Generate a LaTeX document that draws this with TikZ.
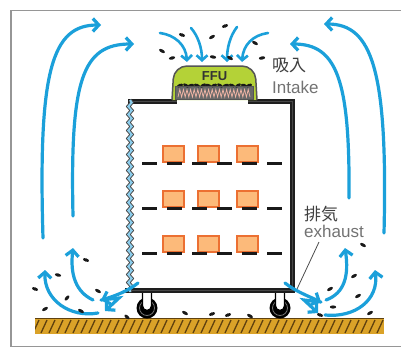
\documentclass[tikz,border=0pt]{standalone}
\usepackage{fontspec}
\setmainfont{Liberation Sans}
\newfontfamily\jpfont{Noto Sans CJK JP}
\usetikzlibrary{arrows.meta,decorations.pathmorphing}

\definecolor{airblue}{RGB}{27,160,218}
\definecolor{ffugreen}{RGB}{180,210,55}
\definecolor{ffuedge}{RGB}{85,85,85}
\definecolor{boxfill}{RGB}{252,186,122}
\definecolor{boxedge}{RGB}{236,112,50}
\definecolor{floorc}{RGB}{218,162,40}
\definecolor{hatchc}{RGB}{95,65,15}
\definecolor{rackc}{RGB}{30,30,30}
\definecolor{curtainc}{RGB}{140,205,236}
\definecolor{framec}{RGB}{150,150,150}
\definecolor{filterc}{RGB}{105,105,105}
\definecolor{pleatc}{RGB}{242,182,166}

\tikzset{
  air/.style={draw=airblue, line width=3.2pt, line cap=round,
    -{Straight Barb[length=6pt,width=13pt]}},
  airsmall/.style={draw=airblue, line width=2.6pt, line cap=round,
    -{Straight Barb[length=5pt,width=11pt]}},
  rackbar/.style={draw=rackc, line width=5pt},
  rackcore/.style={draw=black!72, line width=1pt},
  crate/.style={draw=boxedge, fill=boxfill, line width=1.3pt},
  shelf/.style={draw=black!90, line width=3pt, dash pattern=on 15pt off 10pt},
  jplabel/.style={font=\jpfont\fontsize{17}{17}\selectfont, text=black!75, inner sep=0pt, anchor=base west},
  enlabel/.style={font=\fontsize{17}{17}\selectfont, text=black!55, inner sep=0pt, anchor=base west},
}
% a single dust speck: x, y, angle
\newcommand{\speck}[3]{\fill[black!90, rotate around={#3:(#1,#2)}] (#1,#2) ellipse (3.2 and 1.6);}

\begin{document}
\begin{tikzpicture}[x=1pt,y=-1pt]
\useasboundingbox (0,0) rectangle (401,348);
\fill[white] (0,0) rectangle (401,348);

% outer frame
\draw[framec, line width=1.5pt] (402,10.5) -- (11,10.5) -- (11,346.5) -- (402,346.5);

% floor with hatching
\fill[floorc] (35,318) rectangle (384,334);
\begin{scope}
  \clip (35,318) rectangle (384,334);
  \foreach \x in {33,41,...,385} \draw[hatchc, line width=1.3pt] (\x,333) -- (\x+6,320);
\end{scope}
\draw[hatchc, line width=1.2pt] (35,318.5) -- (384,318.5);

% casters
\foreach \cx in {147,280} {
  \fill[black] (\cx,308) circle (10.5);
  \draw[black!55, line width=0.8pt] (\cx,308) circle (7.5);
  \draw[black, fill=white, line width=1.4pt] (\cx-4.5,291) -- (\cx-4.5,306) arc (180:0:4.5) -- (\cx+4.5,291);
}

% rack frame
\draw[rackbar] (128,101) -- (177,101);
\draw[rackbar, line join=miter] (248,101) -- (292.5,101) -- (292.5,290.5);
\draw[rackbar] (125,290.5) -- (295,290.5);
\draw[rackcore] (130,101) -- (177,101);
\draw[rackcore] (248,101) -- (292.5,101) -- (292.5,290.5);
\draw[rackcore] (125,290.5) -- (292.5,290.5);

% curtain on the open side
\draw[black!75, line width=3.8pt, decorate, decoration={snake, segment length=8pt, amplitude=1.7pt}] (130,100) -- (130,292);
\draw[curtainc, line width=2pt, decorate, decoration={snake, segment length=8pt, amplitude=1.7pt}] (130,100) -- (130,292);

% trays
\foreach \y in {146,191,236} {
  \foreach \x in {163,198,237} \draw[crate] (\x,\y) rectangle ++(21,16);
}
\foreach \y in {163,208,253} \draw[shelf] (142,\y) -- (284,\y);

% fan filter unit
\draw[ffuedge, fill=ffugreen, line width=1.5pt, rounded corners=13pt] (172,100) -- (174,66) -- (255,66) -- (257,100);
\node[font=\bfseries\fontsize{13}{13}\selectfont, text=black!80, inner sep=0pt] (ffu) at (214.5,76) {FFU};
\fill[filterc] (175.5,86.5) rectangle (253.5,99);
\draw[pleatc, line width=0.7pt] (178,97) \foreach \i in {0,...,19} { -- (179.8+\i*3.6,89.5) -- (181.6+\i*3.6,97) };
\foreach \x/\a in {180/20,186/-30,191/10,197/-20,203/30,208/-10,214/20,220/-30,226/10,232/-20,238/30,244/-15,249/20}
  \speck{\x}{85.5}{\a}
\draw[ffuedge, line width=1.2pt] (175.5,86.5) rectangle (253.5,99.5);

% labels
\node[jplabel] (intakejp) at (272,71.5) {吸入};
\node[enlabel] (intake) at (272,93) {Intake};
\node[jplabel] (exhaustjp) at (304,220) {排気};
\node[enlabel] (exhaust) at (304,237) {exhaust};
\coordinate (leadtop) at (319,242);
\coordinate (rackcorner) at (297,289);
\draw[black!70, line width=0.8pt] (leadtop) -- (rackcorner);

% circulating air outside the rack
\draw[air] (43,238) .. controls (38,70) and (52,25) .. (101,25);
\draw[air] (73,216) .. controls (70,80) and (82,44) .. (134,44);
\draw[air] (384,233) .. controls (388,70) and (372,24) .. (324,24);
\draw[air] (349,198) .. controls (350,80) and (337,44) .. (290,44);

% intake into the FFU
\draw[airsmall] (160,33) .. controls (175,35) and (186,45) .. (187,62);
\draw[airsmall] (191,28) .. controls (198,36) and (202,48) .. (202,62);
\draw[airsmall] (237,27) .. controls (230,36) and (227,48) .. (227,62);
\draw[airsmall] (268,33) .. controls (253,35) and (243,45) .. (242,62);

% exhaust at the floor
\draw[air] (138,283) .. controls (128,291) and (115,296) .. (101,300);
\draw[air] (101,300) -- (119,298) -- (105,311);
\draw[air] (93,300) .. controls (76,292) and (70,275) .. (73,248);
\draw[air] (98,313) .. controls (70,318) and (44,300) .. (45,270);

\draw[air] (285,283) .. controls (295,291) and (308,296) .. (321,302);
\draw[air] (321,302) -- (304,300) -- (318,313);
\draw[air] (326,300) .. controls (345,293) and (349,275) .. (345,248);
\draw[air] (325,315) .. controls (355,318) and (379,300) .. (375,270);

% dust in the air
\speck{162}{51}{-30}
\speck{172}{58}{15}
\speck{182}{35}{-20}
\speck{212}{37}{30}
\speck{213}{57}{-10}
\speck{225}{26}{20}
\speck{230}{58}{-30}
\speck{255}{43}{-30}
\speck{262}{58}{10}

\speck{35}{289}{-20}
\speck{58}{275}{-15}
\speck{86}{260}{-20}
\speck{67}{298}{50}
\speck{98}{291}{-30}
\speck{45}{309}{30}
\speck{81}{311}{-30}
\speck{127}{317}{-40}
\speck{185}{313}{-30}
\speck{212}{314}{20}
\speck{228}{315}{20}
\speck{250}{316}{-30}

\speck{363}{245}{-30}
\speck{354}{276}{30}
\speck{330}{289}{30}
\speck{358}{296}{30}
\speck{333}{307}{0}
\speck{370}{313}{30}
\speck{320}{315}{-20}
\end{tikzpicture}
\end{document}
